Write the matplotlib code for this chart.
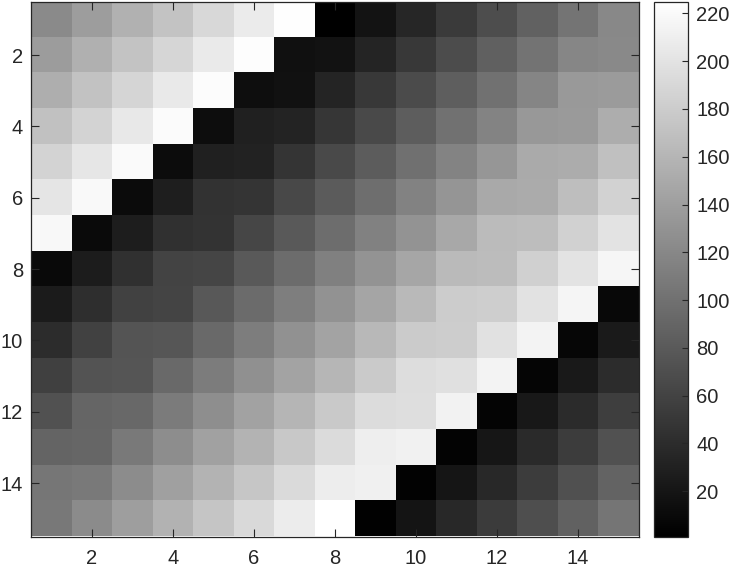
import matplotlib
matplotlib.use('Agg')
import matplotlib.pyplot as plt
import numpy as np

plt.rcParams['font.family'] = ['Liberation Sans', 'DejaVu Sans']

# 15x15 matrix values (rows top to bottom)
row01 = [122, 139, 156, 173, 190, 207, 224, 1, 18, 35, 52, 69, 86, 103, 120]
row02 = [138, 155, 172, 189, 206, 223, 15, 17, 34, 51, 68, 85, 102, 119, 121]
row03 = [154, 171, 188, 205, 222, 14, 16, 33, 50, 67, 84, 101, 118, 135, 137]
row04 = [170, 187, 204, 221, 13, 30, 32, 49, 66, 83, 100, 117, 134, 136, 153]
row05 = [186, 203, 220, 12, 29, 31, 48, 65, 82, 99, 116, 133, 150, 152, 169]
row06 = [202, 219, 11, 28, 45, 47, 64, 81, 98, 115, 132, 149, 151, 168, 185]
row07 = [218, 10, 27, 44, 46, 63, 80, 97, 114, 131, 148, 165, 167, 184, 201]
row08 = [9, 26, 43, 60, 62, 79, 96, 113, 130, 147, 164, 166, 183, 200, 217]
row09 = [25, 42, 59, 61, 78, 95, 112, 129, 146, 163, 180, 182, 199, 216, 8]
row10 = [41, 58, 75, 77, 94, 111, 128, 145, 162, 179, 181, 198, 215, 7, 24]
row11 = [57, 74, 76, 93, 110, 127, 144, 161, 178, 195, 197, 214, 6, 23, 40]
row12 = [73, 90, 92, 109, 126, 143, 160, 177, 194, 196, 213, 5, 22, 39, 56]
row13 = [89, 91, 108, 125, 142, 159, 176, 193, 210, 212, 4, 21, 38, 55, 72]
row14 = [105, 107, 124, 141, 158, 175, 192, 209, 211, 3, 20, 37, 54, 71, 88]
row15 = [106, 123, 140, 157, 174, 191, 208, 225, 2, 19, 36, 53, 70, 87, 104]

rows = [row01, row02, row03, row04, row05, row06, row07, row08,
        row09, row10, row11, row12, row13, row14, row15]
x_ticks = [2, 4, 6, 8, 10, 12, 14]
y_ticks = [2, 4, 6, 8, 10, 12, 14]
cbar_ticks = [20, 40, 60, 80, 100, 120, 140, 160, 180, 200, 220]

M = np.array(rows)
n = M.shape[0]
W, H = 730, 569
txt = '#262626'

fig = plt.figure(figsize=(W / 100, H / 100), dpi=100)
ax = fig.add_axes([31.25 / W, 1 - 536.5 / H, 607.5 / W, 535 / H])
im = ax.imshow(M, cmap='gray', vmin=M.min(), vmax=M.max(), aspect='auto',
               interpolation='nearest', extent=(0.5, n + 0.5, n + 0.5, 0.5))
ax.set_xticks(x_ticks)
ax.set_yticks(y_ticks)
ax.tick_params(direction='in', length=6, width=0.8, color=txt, labelcolor=txt,
               labelsize=14.5, top=True, right=True)
ax.tick_params(axis='x', pad=9)
ax.tick_params(axis='y', pad=6)
for s in ax.spines.values():
    s.set_color(txt)
    s.set_linewidth(0.9)

cax = fig.add_axes([654 / W, 1 - 536.5 / H, 34 / W, 535 / H])
cb = fig.colorbar(im, cax=cax, ticks=cbar_ticks)
cb.outline.set_edgecolor(txt)
cb.outline.set_linewidth(0.9)
cax.tick_params(direction='in', length=4, width=0.8, color=txt, labelcolor=txt,
                labelsize=14.5, pad=6)

fig.savefig('out.png', dpi=100)
